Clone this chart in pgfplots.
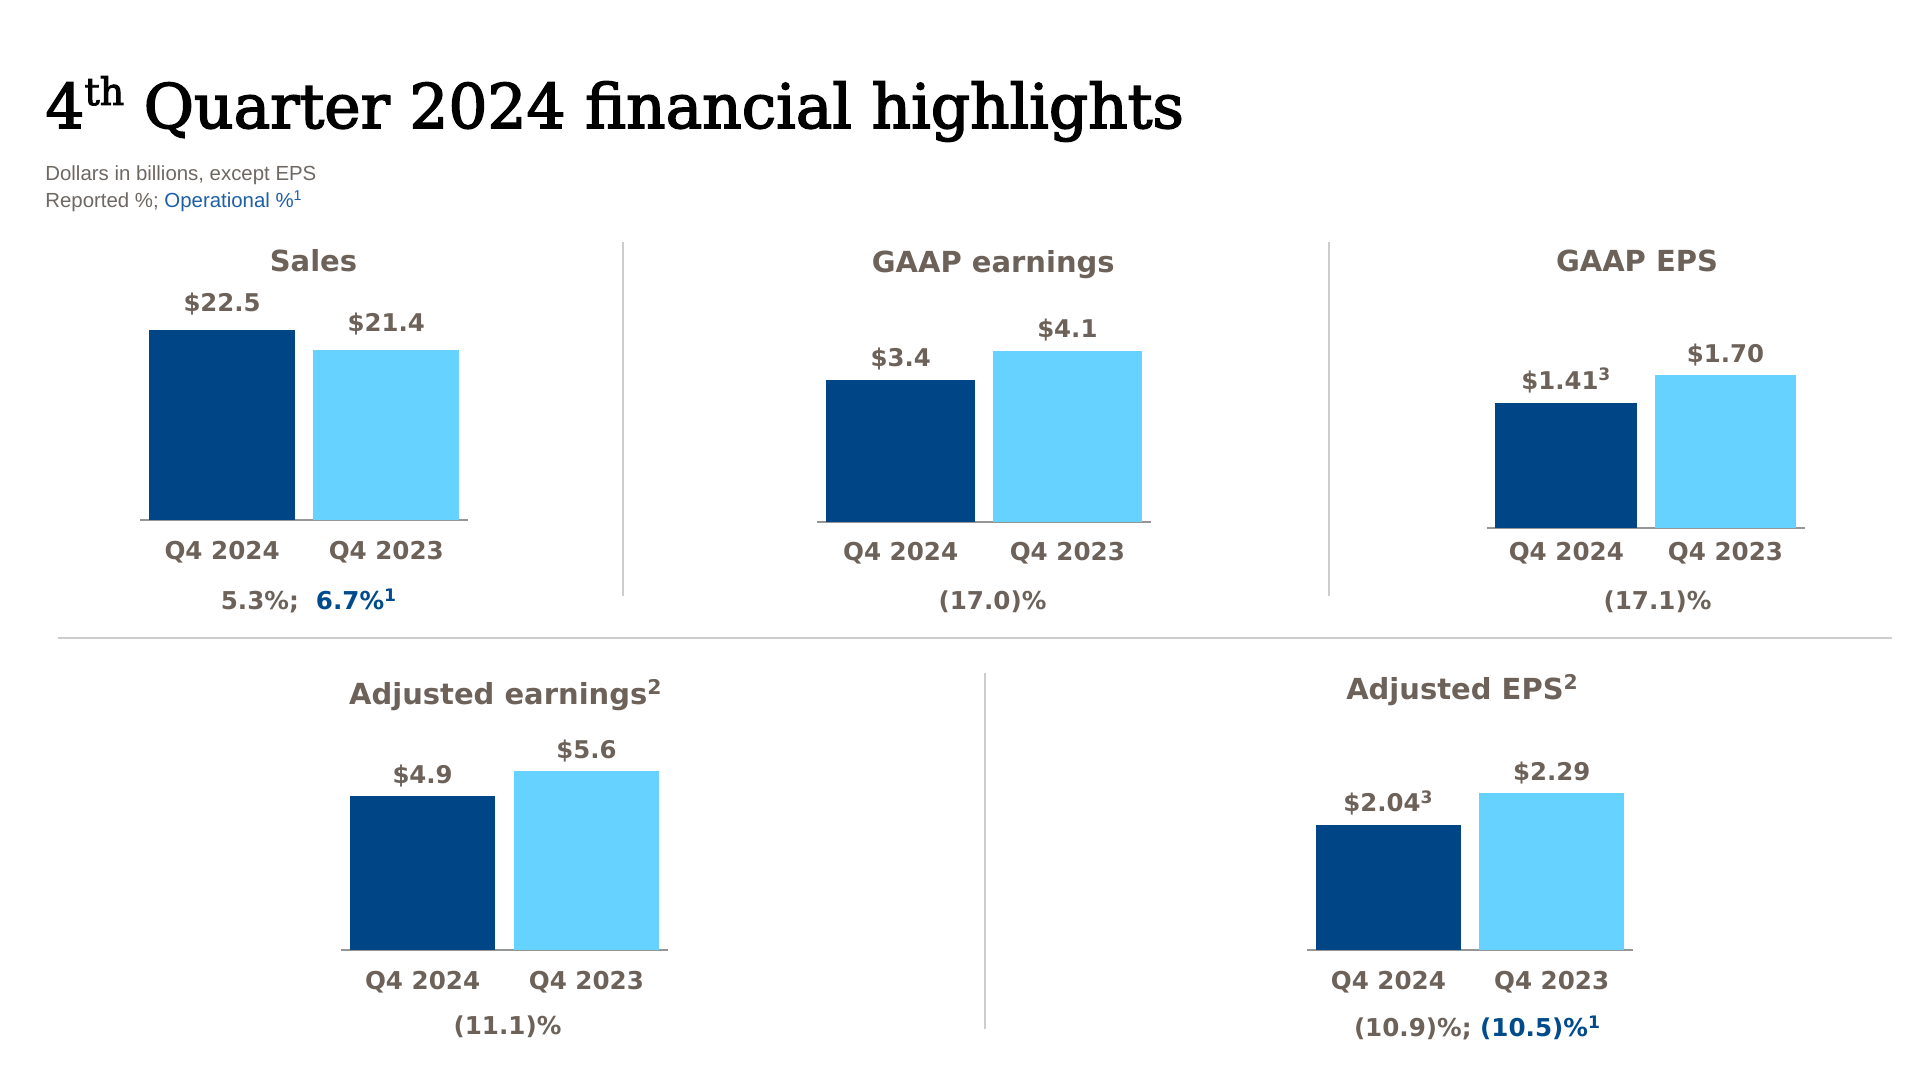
\documentclass[border=0pt]{standalone}
\usepackage{pgfplots}
\pgfplotsset{compat=1.18}
\usepackage{fontspec}
\setmainfont{Liberation Sans}
\newfontfamily\labelfont{DejaVu Sans}
\newfontfamily\titlefont[FakeBold=2.5]{DejaVu Serif}

\definecolor{darkblue}{RGB}{0,69,133}
\definecolor{lightblue}{RGB}{102,210,255}
\definecolor{labelgray}{RGB}{108,98,89}
\definecolor{basegray}{RGB}{150,150,150}
\definecolor{sepgray}{RGB}{205,205,205}
\definecolor{pctblue}{RGB}{0,75,140}
\definecolor{subblue}{RGB}{30,95,165}
\definecolor{subgray}{RGB}{110,104,98}

\newcommand{\lblfont}{\labelfont\bfseries\fontsize{12.3}{14}\selectfont}
\newcommand{\valfont}{\labelfont\bfseries\fontsize{12.2}{14}\selectfont}
\newcommand{\ttlfont}{\labelfont\bfseries\fontsize{14.5}{17}\selectfont}

\pgfplotsset{
  minibar/.style={
    ybar,
    scale only axis,
    height=150pt,
    anchor=south west,
    xmin=-0.5, xmax=1.5,
    axis x line*=bottom,
    axis y line=none,
    x axis line style={draw=basegray, line width=1pt},
    xtick={0,1},
    xticklabels={Q4 2024, Q4 2023},
    xtick style={draw=none},
    major tick length=0pt,
    ytick=\empty,
    bar width=0.89,
    xticklabel style={font=\lblfont, text=labelgray, anchor=base, inner sep=0pt, yshift=-19.5pt},
    point meta=explicit symbolic,
    nodes near coords={\pgfplotspointmeta},
    every node near coord/.append style={font=\valfont, text=labelgray, anchor=base, inner sep=0pt, yshift=6.5pt},
  },
  darkbar/.style={fill=darkblue, draw=none, bar shift=0pt},
  lightbar/.style={fill=lightblue, draw=none, bar shift=0pt},
}

\begin{document}
\begin{tikzpicture}[x=0.5pt, y=0.5pt]
\path (0,0) rectangle (1920,1080);

% header
\node[anchor=base west, inner sep=0pt] at (45,952)
  {\titlefont\fontsize{30.7}{34}\selectfont 4\raisebox{11.5pt}{\fontsize{19}{19}\selectfont th} Quarter 2024 financial highlights};
\node[anchor=base west, inner sep=0pt, text=subgray] at (45,899)
  {\fontsize{10.2}{12}\selectfont Dollars in billions, except EPS};
\node[anchor=base west, inner sep=0pt, text=subgray] at (45,872)
  {\fontsize{10.2}{12}\selectfont Reported \%; {\color{subblue}Operational \%\textsuperscript{1}}};

% separators
\draw[sepgray, line width=1pt] (623,838) -- (623,484);
\draw[sepgray, line width=1pt] (1328.6,838) -- (1328.6,484);
\draw[sepgray, line width=1pt] (57.5,442) -- (1892,442);
\draw[sepgray, line width=1pt] (984.5,406.5) -- (984.5,51.4);

% Sales
\begin{axis}[minibar, at={(70pt,279.75pt)}, width=164.2pt, ymin=12.15, ymax=28.41,
  every node near coord/.append style={yshift=2.5pt}]
\addplot[darkbar] coordinates {(0,22.5) [\$22.5]};
\addplot[lightbar] coordinates {(1,21.4) [\$21.4]};
\end{axis}

% GAAP earnings
\begin{axis}[minibar, at={(408.65pt,279pt)}, width=166.7pt, ymin=0, ymax=7.18]
\addplot[darkbar] coordinates {(0,3.4) [\$3.4]};
\addplot[lightbar] coordinates {(1,4.1) [\$4.1]};
\end{axis}

% GAAP EPS
\begin{axis}[minibar, at={(743.35pt,276pt)}, width=159.2pt, ymin=0.084, ymax=3.259,
  xticklabel style={yshift=3pt}]
\addplot[darkbar] coordinates {(0,1.41) [\$1.41\textsuperscript{3}]};
\addplot[lightbar] coordinates {(1,1.70) [\$1.70]};
\end{axis}

% Adjusted earnings
\begin{axis}[minibar, at={(170.35pt,64.85pt)}, width=163.8pt, ymin=0.58, ymax=8.98]
\addplot[darkbar] coordinates {(0,4.9) [\$4.9]};
\addplot[lightbar] coordinates {(1,5.6) [\$5.6]};
\end{axis}

% Adjusted EPS
\begin{axis}[minibar, at={(653.35pt,64.75pt)}, width=163.3pt, ymin=1.046, ymax=3.418]
\addplot[darkbar] coordinates {(0,2.04) [\$2.04\textsuperscript{3}]};
\addplot[lightbar] coordinates {(1,2.29) [\$2.29]};
\end{axis}

% chart titles
\node[anchor=base, inner sep=0pt, text=labelgray] at (313.5,808.3) {\ttlfont Sales};
\node[anchor=base, inner sep=0pt, text=labelgray] at (993.3,807.5) {\ttlfont GAAP earnings};
\node[anchor=base, inner sep=0pt, text=labelgray] at (1637,808) {\ttlfont GAAP EPS};
\node[anchor=base, inner sep=0pt, text=labelgray] at (505.8,375) {\ttlfont Adjusted earnings\textsuperscript{2}};
\node[anchor=base, inner sep=0pt, text=labelgray] at (1462.5,380) {\ttlfont Adjusted EPS\textsuperscript{2}};

% percentages
\node[anchor=base, inner sep=0pt, text=labelgray] at (309,470) {\lblfont 5.3\%;\ \ {\color{pctblue}6.7\%\textsuperscript{1}}};
\node[anchor=base, inner sep=0pt, text=labelgray] at (992.5,470) {\lblfont (17.0)\%};
\node[anchor=base, inner sep=0pt, text=labelgray] at (1657.5,470) {\lblfont (17.1)\%};
\node[anchor=base, inner sep=0pt, text=labelgray] at (507.5,45) {\lblfont (11.1)\%};
\node[anchor=base, inner sep=0pt, text=labelgray] at (1477.5,43) {\lblfont (10.9)\%; {\color{pctblue}(10.5)\%\textsuperscript{1}}};
\end{tikzpicture}
\end{document}
